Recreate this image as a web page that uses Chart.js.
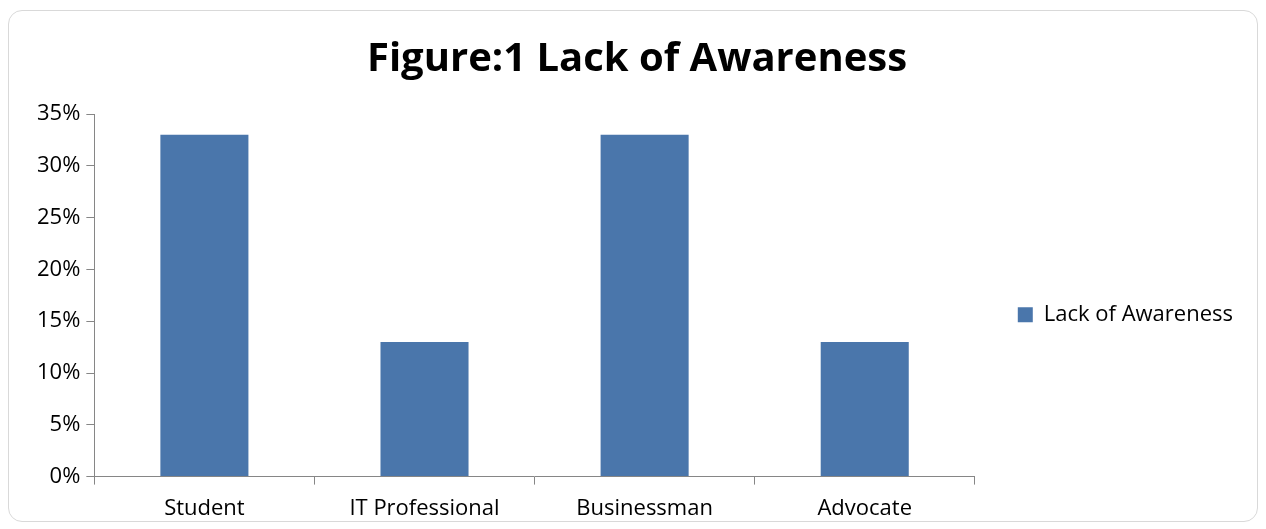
<!DOCTYPE html>
<html lang="en">
<head>
    <meta charset="UTF-8">
    <title>Figure:1 Lack of Awareness</title>
    <script src="https://cdn.jsdelivr.net/npm/chart.js"></script>
    <style>
        body { margin: 0; background: #fff; }
        #wrap { position: relative; width: 1266px; height: 529px; }
        #frame { position: absolute; left: 8px; top: 10px; width: 1250px; height: 512px;
                 border: 1px solid #d9d9d9; border-radius: 14px; box-sizing: border-box; }
        canvas { position: absolute; left: 0; top: 0; }
    </style>
</head>
<body>
    <div id="wrap">
        <div id="frame"></div>
        <canvas id="myChart" width="1266" height="529"></canvas>
    </div>

    <script>
// datos
const categorias = ["Student", "IT Professional", "Businessman", "Advocate"];
const valores = [33, 13, 33, 13];
const nombreSerie = "Lack of Awareness";
const titulo = "Figure:1 Lack of Awareness";

const colorBarra = "#4A76AB";
const colorEje = "#868686";
const fuente = "'Open Sans', 'Liberation Sans', sans-serif";

const config = {
    type: "bar",
    data: {
        labels: categorias,
        datasets: [{
            label: nombreSerie,
            data: valores,
            backgroundColor: colorBarra,
            barPercentage: 0.4,
            categoryPercentage: 1.0
        }]
    },
    options: {
        responsive: false,
        animation: false,
        layout: { padding: { left: 31, right: 23, top: 36, bottom: -4 } },
        plugins: {
            title: {
                display: true,
                text: titulo,
                color: "#000",
                font: { family: fuente, size: 40, weight: "bold" },
                padding: { top: 0, bottom: 30 }
            },
            legend: {
                position: "right",
                // titulo vacio solo para bajar la leyenda
                title: { display: true, text: "", padding: { top: 0, bottom: 46 } },
                labels: {
                    color: "#000",
                    font: { family: fuente, size: 22 },
                    boxWidth: 15,
                    boxHeight: 15,
                    padding: 43
                }
            },
            tooltip: { enabled: false }
        },
        scales: {
            x: {
                grid: { display: true, drawOnChartArea: false, drawTicks: true, tickLength: 8, color: colorEje },
                border: { color: colorEje },
                ticks: { color: "#000", font: { family: fuente, size: 22 }, padding: 11 }
            },
            y: {
                min: 0,
                max: 35,
                grid: { display: true, drawOnChartArea: false, drawTicks: true, tickLength: 8, color: colorEje },
                border: { color: colorEje },
                ticks: {
                    stepSize: 5,
                    color: "#000",
                    font: { family: fuente, size: 22 },
                    padding: 6,
                    callback: (v) => v + "%"
                }
            }
        }
    }
};

new Chart(document.getElementById("myChart"), config);
    </script>
</body>
</html>
